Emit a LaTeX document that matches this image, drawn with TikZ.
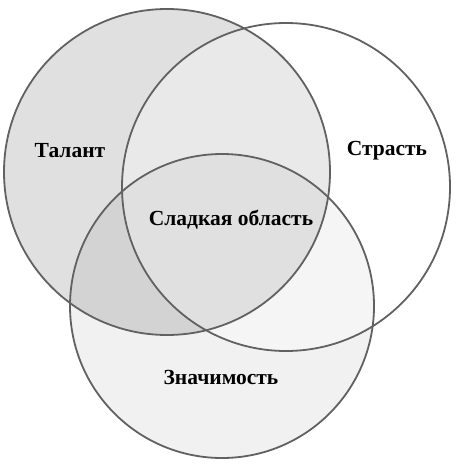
\documentclass[tikz,border=0pt]{standalone}
\usepackage{fontspec}
\setmainfont{Liberation Serif}
\begin{document}
\begin{tikzpicture}[x=1pt,y=-1pt,
    ring/.style={draw=black!62,line width=1.8pt},
    lbl/.style={font=\bfseries\fontsize{21.5}{24}\selectfont}]
        \useasboundingbox (0,0) rectangle (473,471);
        \fill[black!12] (167,172) circle (163);
        \fill[black,fill opacity=0.055] (222,306) circle (152);
        \fill[white,fill opacity=0.3] (286,187) circle (164);
        \draw[ring] (167,172) circle (163);
        \draw[ring] (286,187) circle (164);
        \draw[ring] (222,306) circle (152);
        \node[lbl] (talant) at (70,151) {Талант};
        \node[lbl] (strast) at (387,151) {Страсть};
        \node[lbl] (sweet) at (231,220) {Сладкая область};
        \node[lbl] (znach) at (221,377) {Значимость};
    \end{tikzpicture}
\end{document}
